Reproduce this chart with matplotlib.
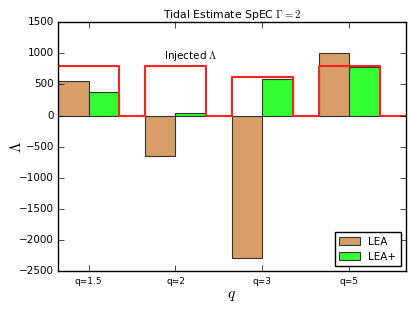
import numpy as np
import matplotlib
matplotlib.use('Agg')
import matplotlib.pyplot as plt

plt.style.use('classic')

labels = ['q=1.5', 'q=2', 'q=3', 'q=5']
lea = [550, -650, -2290, 1000]
lea_plus = [370, 40, 585, 780]
injected = [790, 790, 615, 790]

x = np.arange(len(labels))
width = 0.35

fig = plt.figure(figsize=(4.15, 3.12), dpi=100, facecolor='white')
ax = fig.add_axes([0.140, 0.131, 0.838, 0.798])

ax.bar(x - width, lea, width, align='edge', color='#D89E67', edgecolor='#333333',
       linewidth=0.8, label='LEA')
ax.bar(x, lea_plus, width, align='edge', color='#33FF33', edgecolor='#333333',
       linewidth=0.8, label='LEA+')

# injected values as a step outline
xs, ys = [], []
for xi, v in zip(x, injected):
    xs += [xi - width, xi - width, xi + width, xi + width]
    ys += [0, v, v, 0]
xs.append(x[-1] + 1 - width)
ys.append(0)
ax.plot(xs[1:], ys[1:], color='#FF2020', linewidth=1.5)
ax.text(0.87, 950, r'Injected $\Lambda$', fontsize=7.5, va='center')

ax.set_xlim(-width, len(labels) - width)
ax.set_ylim(-2500, 1500)
ax.set_xticks(x)
ax.set_xticklabels(labels, fontsize=6.5)
ax.tick_params(axis='y', labelsize=7.5, pad=3)
ax.set_title(r'Tidal Estimate SpEC $\Gamma=2$', fontsize=7.8, pad=3)
ax.set_xlabel(r'$q$', fontsize=11, labelpad=2)
ax.set_ylabel(r'$\Lambda$', fontsize=11)
ax.yaxis.set_label_coords(-0.098, 0.5)
ax.legend(loc='lower right', fontsize=7.5, handlelength=2.0, borderpad=0.4)

fig.savefig('out.png', dpi=100, facecolor='white')
